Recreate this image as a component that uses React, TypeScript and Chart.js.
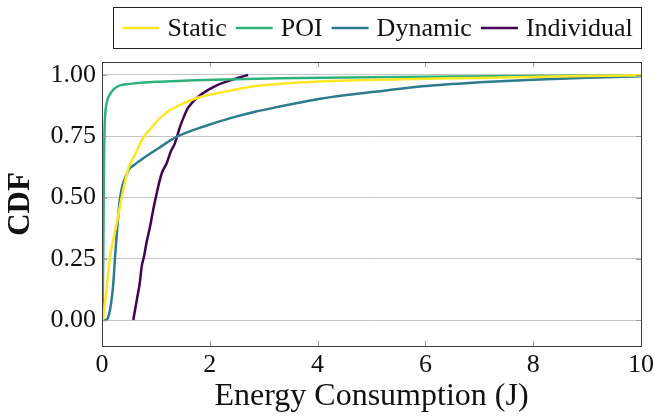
import React, { useEffect, useRef } from 'react';
import { Chart, registerables } from 'chart.js';

Chart.register(...registerables);

const FONT = '"Liberation Serif", "Times New Roman", serif';

const seriesLabels = ['Static', 'POI', 'Dynamic', 'Individual'];
const seriesColors = ['#fde725', '#2db27d', '#2c7b8e', '#440154'];

const staticX = [0.02, 0.06, 0.1, 0.15, 0.21, 0.27, 0.365, 0.49, 0.6, 0.77, 0.9, 1.08, 1.25, 1.45, 1.66, 1.82, 2.28, 2.84, 3.49, 4.36, 5.0, 6.0, 7.0, 8.0, 9.0, 10.0];
const staticY = [0, 0.08, 0.16, 0.26, 0.33, 0.39, 0.5, 0.62, 0.67, 0.745, 0.78, 0.825, 0.855, 0.878, 0.898, 0.91, 0.932, 0.955, 0.967, 0.976, 0.98, 0.985, 0.988, 0.992, 0.996, 0.999];

const poiX = [0.01, 0.025, 0.035, 0.045, 0.06, 0.09, 0.15, 0.22, 0.3, 0.45, 0.61, 1.0, 1.6, 2.1, 3.3, 5.0, 6.5, 8.0, 10.0];
const poiY = [0, 0.3, 0.6, 0.76, 0.84, 0.89, 0.922, 0.942, 0.955, 0.962, 0.966, 0.972, 0.977, 0.981, 0.987, 0.991, 0.994, 0.996, 0.998];

const dynamicX = [0.02, 0.07, 0.12, 0.17, 0.21, 0.24, 0.27, 0.3, 0.33, 0.38, 0.43, 0.5, 0.61, 0.8, 1.04, 1.39, 1.97, 2.4, 2.84, 3.3, 3.92, 4.54, 5.2, 6.0, 7.0, 8.0, 9.0, 10.0];
const dynamicY = [0, 0, 0.015, 0.07, 0.15, 0.25, 0.34, 0.42, 0.49, 0.55, 0.58, 0.615, 0.635, 0.665, 0.7, 0.748, 0.796, 0.825, 0.85, 0.871, 0.898, 0.918, 0.935, 0.955, 0.97, 0.981, 0.989, 0.995];

const individualX = [0.58, 0.62, 0.66, 0.7, 0.736, 0.78, 0.83, 0.89, 0.95, 1.01, 1.06, 1.11, 1.2, 1.28, 1.35, 1.4, 1.45, 1.52, 1.58, 1.66, 1.78, 1.97, 2.15, 2.41, 2.58, 2.71];
const individualY = [0, 0.05, 0.1, 0.15, 0.218, 0.26, 0.32, 0.38, 0.45, 0.512, 0.56, 0.6, 0.64, 0.69, 0.72, 0.755, 0.79, 0.83, 0.86, 0.884, 0.91, 0.939, 0.96, 0.98, 0.992, 1.0];

const seriesXs = [staticX, poiX, dynamicX, individualX];
const seriesYs = [staticY, poiY, dynamicY, individualY];

const xTicks = [0, 2, 4, 6, 8, 10];
const yTicks = [0, 0.25, 0.5, 0.75, 1.0];

const xTitle = 'Energy Consumption (J)';
const yTitle = 'CDF';

const framePlugin = {
  id: 'frame',
  afterDatasetsDraw(chart: any) {
    const { ctx, chartArea } = chart;
    const { left, right, top, bottom } = chartArea;
    const xs = chart.scales.x;
    const ys = chart.scales.y;
    ctx.save();
    ctx.strokeStyle = '#9a9a9a';
    ctx.lineWidth = 1;
    ctx.beginPath();
    xTicks.forEach((v) => {
      if (v === xs.min || v === xs.max) return;
      const px = Math.round(xs.getPixelForValue(v)) + 0.5;
      ctx.moveTo(px, top);
      ctx.lineTo(px, top + 5);
      ctx.moveTo(px, bottom);
      ctx.lineTo(px, bottom - 5);
    });
    yTicks.forEach((v) => {
      const py = Math.round(ys.getPixelForValue(v)) + 0.5;
      ctx.moveTo(left, py);
      ctx.lineTo(left + 5, py);
      ctx.moveTo(right, py);
      ctx.lineTo(right - 5, py);
    });
    ctx.stroke();
    ctx.strokeStyle = '#3a3a3a';
    ctx.lineWidth = 1;
    ctx.strokeRect(Math.round(left) + 0.5, Math.round(top) + 0.5, Math.round(right - left), Math.round(bottom - top));
    ctx.restore();
  },
};

const legendPlugin = {
  id: 'boxLegend',
  afterDraw(chart: any) {
    const { ctx } = chart;
    const ds = chart.data.datasets;
    ctx.save();
    ctx.font = `26px ${FONT}`;
    const sample = 37;
    const gap1 = 8;
    const gap2 = 9;
    const padX = 9;
    const widths = ds.map((d: any) => ctx.measureText(d.label).width);
    let total = padX * 2 + gap2 * (ds.length - 1);
    widths.forEach((w: number) => (total += sample + gap1 + w));
    const cx = 377.5;
    const boxTop = 7.5;
    const boxH = 41;
    const boxLeft = Math.round(cx - total / 2) + 0.5;
    ctx.strokeStyle = '#222';
    ctx.lineWidth = 1;
    ctx.strokeRect(boxLeft, boxTop, Math.round(total), boxH);
    let x = boxLeft + padX;
    const cy = boxTop + boxH / 2;
    ds.forEach((d: any, i: number) => {
      ctx.strokeStyle = d.borderColor;
      ctx.lineWidth = 2.5;
      ctx.beginPath();
      ctx.moveTo(x, cy);
      ctx.lineTo(x + sample, cy);
      ctx.stroke();
      x += sample + gap1;
      ctx.fillStyle = '#111';
      ctx.textBaseline = 'middle';
      ctx.textAlign = 'left';
      ctx.fillText(d.label, x, cy + 1);
      x += widths[i] + gap2;
    });
    ctx.restore();
  },
};

export default function App() {
  const ref = useRef<HTMLCanvasElement | null>(null);
  useEffect(() => {
    if (!ref.current) return;
    const datasets = seriesLabels.map((label, i) => ({
      label,
      data: seriesXs[i].map((x, j) => ({ x, y: seriesYs[i][j] })),
      borderColor: seriesColors[i],
      backgroundColor: seriesColors[i],
      borderWidth: 2.5,
      pointRadius: 0,
      cubicInterpolationMode: 'monotone' as const,
      fill: false,
    }));
    const chart = new Chart(ref.current, {
      type: 'line',
      data: { datasets },
      plugins: [framePlugin, legendPlugin],
      options: {
        animation: false,
        responsive: false,
        maintainAspectRatio: false,
        layout: { padding: { top: 62, right: 14, left: 0, bottom: 0 } },
        plugins: { legend: { display: false }, tooltip: { enabled: false } },
        scales: {
          x: {
            type: 'linear',
            min: 0,
            max: 10,
            afterBuildTicks: (s: any) => {
              s.ticks = xTicks.map((v) => ({ value: v }));
            },
            afterFit: (s: any) => {
              s.height = 72;
              s.paddingLeft = 0;
              s.paddingRight = 0;
            },
            grid: { display: false, drawTicks: false },
            border: { display: false },
            ticks: {
              color: '#111',
              padding: 4,
              maxRotation: 0,
              font: { family: FONT, size: 26 },
              callback: (v: any) => String(v),
            },
            title: {
              display: true,
              text: xTitle,
              color: '#111',
              font: { family: FONT, size: 32 },
              padding: { top: 0, bottom: 2 },
            },
          },
          y: {
            type: 'linear',
            min: -0.106,
            max: 1.053,
            afterBuildTicks: (s: any) => {
              s.ticks = yTicks.map((v) => ({ value: v }));
            },
            afterFit: (s: any) => {
              s.width = 102;
              s.paddingTop = 0;
              s.paddingBottom = 0;
            },
            grid: { color: '#c4c4c4', lineWidth: 1, drawTicks: false },
            border: { display: false },
            ticks: {
              color: '#111',
              padding: 6,
              font: { family: FONT, size: 26 },
              callback: (v: any) => Number(v).toFixed(2),
            },
            title: {
              display: true,
              text: yTitle,
              color: '#111',
              font: { family: FONT, size: 31, weight: 'bold' },
              padding: { top: 2, bottom: 0 },
            },
          },
        },
      },
    });
    return () => chart.destroy();
  }, []);
  return (
    <div style={{ position: 'absolute', left: 0, top: 0, width: 655, height: 418, background: '#fff' }}>
      <canvas ref={ref} width={655} height={418} />
    </div>
  );
}
